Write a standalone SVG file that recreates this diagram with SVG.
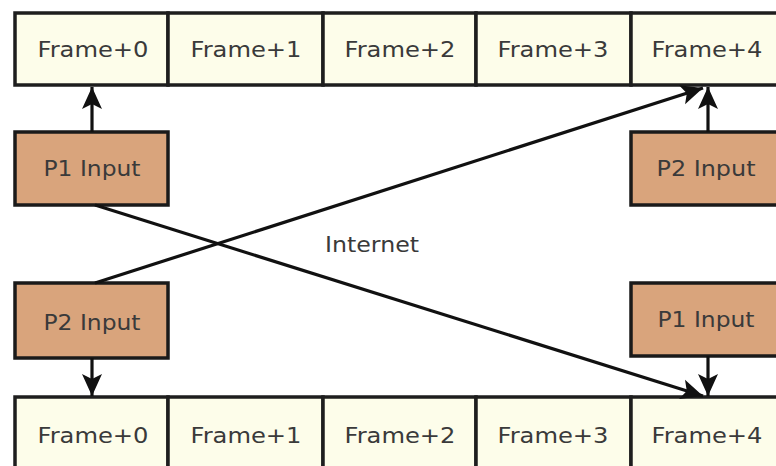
<svg xmlns="http://www.w3.org/2000/svg" width="776" height="466" viewBox="0 0 776 466">
<style>
.cell{fill:#fdfdea;stroke:#1e1e1e;stroke-width:3.5}
.inp{fill:#d9a47c;stroke:#1a1a1a;stroke-width:3.5}
text{font-family:"DejaVu Sans","Liberation Sans",sans-serif;font-size:22px;fill:#3a3a3a;text-anchor:middle}
.ln{stroke:#111;stroke-width:3.2;fill:none}
</style>
<defs>
<marker id="ah" markerUnits="userSpaceOnUse" markerWidth="26" markerHeight="26" viewBox="0 0 26 26" refX="22" refY="13" orient="auto">
<path d="M0,3 L22,13 L0,23 L5,13 Z" fill="#111"/>
</marker>
</defs>
<rect width="776" height="466" fill="#fff"/>
<g id="top-row">
<rect class="cell" x="15" y="13" width="153" height="72"/>
<rect class="cell" x="168" y="13" width="155" height="72"/>
<rect class="cell" x="323" y="13" width="153" height="72"/>
<rect class="cell" x="476" y="13" width="155" height="72"/>
<rect class="cell" x="631" y="13" width="160" height="72"/>
<text x="93" y="57" textLength="111" lengthAdjust="spacingAndGlyphs">Frame+0</text>
<text x="246" y="57" textLength="111" lengthAdjust="spacingAndGlyphs">Frame+1</text>
<text x="400" y="57" textLength="111" lengthAdjust="spacingAndGlyphs">Frame+2</text>
<text x="553" y="57" textLength="111" lengthAdjust="spacingAndGlyphs">Frame+3</text>
<text x="707" y="57" textLength="111" lengthAdjust="spacingAndGlyphs">Frame+4</text>
</g>
<g id="bottom-row">
<rect class="cell" x="15" y="397" width="153" height="80"/>
<rect class="cell" x="168" y="397" width="155" height="80"/>
<rect class="cell" x="323" y="397" width="153" height="80"/>
<rect class="cell" x="476" y="397" width="155" height="80"/>
<rect class="cell" x="631" y="397" width="160" height="80"/>
<text x="93" y="443" textLength="111" lengthAdjust="spacingAndGlyphs">Frame+0</text>
<text x="246" y="443" textLength="111" lengthAdjust="spacingAndGlyphs">Frame+1</text>
<text x="400" y="443" textLength="111" lengthAdjust="spacingAndGlyphs">Frame+2</text>
<text x="553" y="443" textLength="111" lengthAdjust="spacingAndGlyphs">Frame+3</text>
<text x="707" y="443" textLength="111" lengthAdjust="spacingAndGlyphs">Frame+4</text>
</g>
<g id="p1-input-top">
<rect class="inp" x="15" y="132" width="153" height="73"/>
<text x="92" y="176" textLength="97" lengthAdjust="spacingAndGlyphs">P1 Input</text>
</g>
<g id="p2-input-top">
<rect class="inp" x="631" y="132" width="160" height="73"/>
<text x="706" y="176" textLength="99" lengthAdjust="spacingAndGlyphs">P2 Input</text>
</g>
<g id="p2-input-bottom">
<rect class="inp" x="15" y="283" width="153" height="75"/>
<text x="92" y="330" textLength="97" lengthAdjust="spacingAndGlyphs">P2 Input</text>
</g>
<g id="p1-input-bottom">
<rect class="inp" x="631" y="283" width="160" height="73"/>
<text x="706" y="327" textLength="97" lengthAdjust="spacingAndGlyphs">P1 Input</text>
</g>
<g id="internet">
<text x="372" y="252" textLength="94" lengthAdjust="spacingAndGlyphs">Internet</text>
</g>
<g id="connectors">
<line class="ln" x1="92" y1="132" x2="92" y2="87" marker-end="url(#ah)"/>
<line class="ln" x1="708" y1="132" x2="708" y2="87" marker-end="url(#ah)"/>
<line class="ln" x1="92" y1="358" x2="92" y2="396" marker-end="url(#ah)"/>
<line class="ln" x1="708" y1="356" x2="708" y2="396" marker-end="url(#ah)"/>
<line class="ln" x1="95" y1="205" x2="703" y2="396" marker-end="url(#ah)"/>
<line class="ln" x1="95" y1="283" x2="703" y2="88" marker-end="url(#ah)"/>
</g>
</svg>
